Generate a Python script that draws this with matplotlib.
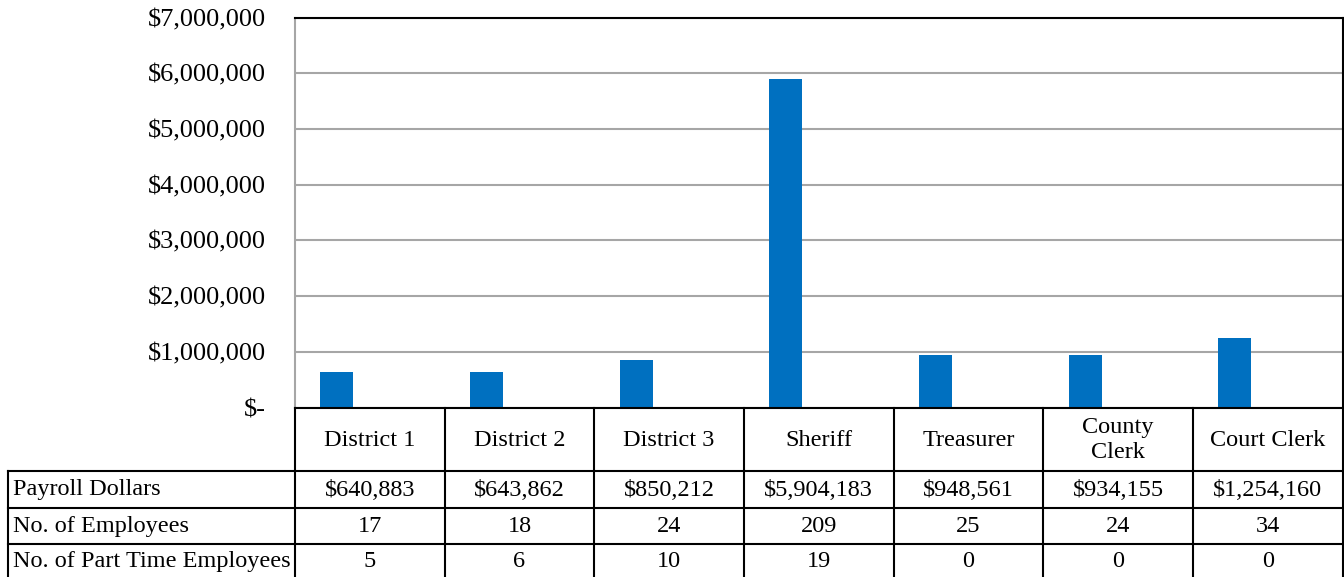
import matplotlib
matplotlib.use("Agg")
import matplotlib.pyplot as plt
from matplotlib.transforms import blended_transform_factory
from matplotlib.ticker import FuncFormatter

# ---- data ----
categories = ["District 1", "District 2", "District 3", "Sheriff",
              "Treasurer", "County\nClerk", "Court Clerk"]
payroll = [640883, 643862, 850212, 5904183, 948561, 934155, 1254160]
employees = [17, 18, 24, 209, 25, 24, 34]
part_time = [5, 6, 10, 19, 0, 0, 0]
series_names = ["Payroll Dollars", "No. of Employees", "No. of Part Time Employees"]
y_ticks = [0, 1000000, 2000000, 3000000, 4000000, 5000000, 6000000, 7000000]

plt.rcParams["font.family"] = ["Liberation Serif", "DejaVu Serif"]

W, H = 1344, 577
fig = plt.figure(figsize=(W / 100, H / 100), dpi=100)


def fx(px):
    return px / W


def fy(py):
    return 1 - py / H


plot_left, plot_right, plot_top, plot_bottom = 295, 1342.5, 17.5, 407.5
ax = fig.add_axes([fx(plot_left), fy(plot_bottom),
                   fx(plot_right) - fx(plot_left), fy(plot_top) - fy(plot_bottom)])

n = len(categories)
bar_w = 0.22
xs = list(range(n))
ax.bar([x - bar_w for x in xs], payroll, width=bar_w, color="#0070C0", zorder=3)

ax.set_xlim(-0.5, n - 0.5)
ax.set_ylim(y_ticks[0], y_ticks[-1])
ax.set_yticks(y_ticks)
ax.yaxis.set_major_formatter(FuncFormatter(lambda v, p: "$-" if v == 0 else "${:,.0f}".format(v)))
ax.tick_params(axis="y", length=0, pad=21, labelsize=19)
ax.set_xticks([])
ax.yaxis.grid(True, color="#A6A6A6", linewidth=1.5, zorder=0)
ax.set_axisbelow(True)
for s in ["top", "right"]:
    ax.spines[s].set_color("black")
    ax.spines[s].set_linewidth(1.5)
ax.spines["left"].set_color("#A6A6A6")
ax.spines["left"].set_linewidth(1.5)
ax.spines["bottom"].set_visible(False)

# ---- data table ----
tr = blended_transform_factory(ax.transData, fig.transFigure)
row_lines = [407.5, 470.5, 507.5, 543.5]
lab_left = 7.5
line_kw = dict(color="black", linewidth=1.5, clip_on=False)

# horizontal lines
fig.add_artist(plt.Line2D([fx(plot_left), fx(plot_right)], [fy(row_lines[0])] * 2,
                          transform=fig.transFigure, **line_kw))
for yl in row_lines[1:]:
    fig.add_artist(plt.Line2D([fx(lab_left), fx(plot_right)], [fy(yl)] * 2,
                              transform=fig.transFigure, **line_kw))
# vertical lines
for k in range(n + 1):
    fig.add_artist(plt.Line2D([k - 0.5, k - 0.5], [fy(row_lines[0]), fy(H + 2)],
                              transform=tr, **line_kw))
fig.add_artist(plt.Line2D([fx(lab_left), fx(lab_left)], [fy(row_lines[1]), fy(H + 2)],
                          transform=fig.transFigure, **line_kw))

fs = 17.5
header_y = (row_lines[0] + row_lines[1]) / 2 + 1
for x, c in zip(xs, categories):
    fig.text(x, fy(header_y), c, transform=tr, ha="center", va="center",
             fontsize=fs, linespacing=1.25)

row_centers = [(row_lines[1] + row_lines[2]) / 2 + 1,
               (row_lines[2] + row_lines[3]) / 2 + 1,
               (row_lines[3] + H) / 2 + 1]
row_values = [["${:,.0f}".format(v) for v in payroll],
              [str(v) for v in employees],
              [str(v) for v in part_time]]
for name, yc, vals in zip(series_names, row_centers, row_values):
    fig.text(fx(13), fy(yc), name, ha="left", va="center", fontsize=fs)
    for x, v in zip(xs, vals):
        fig.text(x, fy(yc), v, transform=tr, ha="center", va="center", fontsize=fs)

fig.savefig("out.png", dpi=100)
